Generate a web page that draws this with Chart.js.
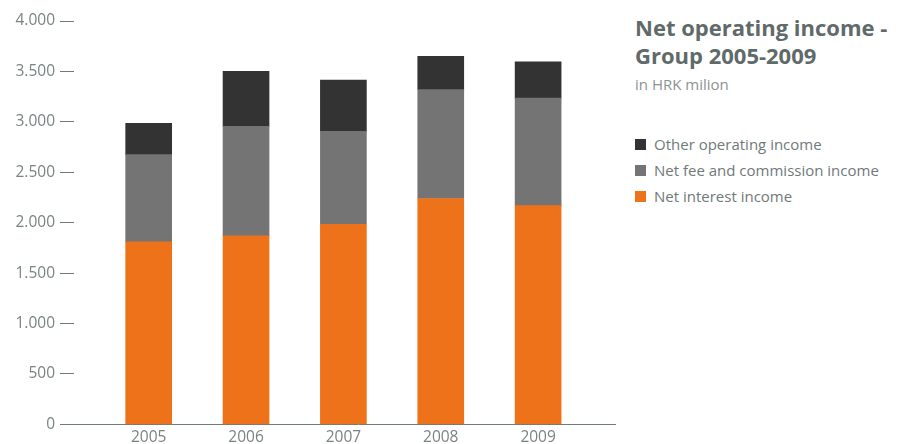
<!DOCTYPE html>
<html>
<head>
<meta charset="utf-8">
<script src="https://cdn.jsdelivr.net/npm/chart.js@4/dist/chart.umd.min.js"></script>
<style>
    html, body { margin: 0; padding: 0; background: #fff; }
    body { width: 901px; height: 444px; position: relative; overflow: hidden; font-family: "Open Sans", "Noto Sans", sans-serif; }
    #chartBox { position: absolute; left: 0; top: 0; width: 616px; height: 444px; }
    #panel { position: absolute; left: 635px; top: 13px; width: 266px; }
    #panel h1 { margin: 0; font-size: 22px; line-height: 28px; font-weight: 700; color: #5f6a6a; }
    #panel .sub { margin: 5px 0 0 0; font-size: 15px; line-height: 20px; color: #8b9393; }
    #legend { list-style: none; margin: 37px 0 0 0; padding: 0; }
    #legend li { display: flex; align-items: center; height: 26px; font-size: 15px; color: #707979; }
    #legend .box { width: 11px; height: 11px; margin-right: 8px; flex: none; }
</style>
</head>
<body>
<div id="chartBox"><canvas id="income"></canvas></div>
<div id="panel">
    <h1>Net operating income -<br>Group 2005-2009</h1>
    <p class="sub">in HRK milion</p>
    <ul id="legend"></ul>
</div>
<script>
    const years = [2005, 2006, 2007, 2008, 2009];
    const netInterestIncome = [1810, 1870, 1985, 2240, 2170];
    const netFeeIncome = [865, 1085, 920, 1080, 1065];
    const otherOperatingIncome = [310, 545, 510, 330, 360];
    const yTicks = [0, 500, 1000, 1500, 2000, 2500, 3000, 3500, 4000];

    const axisColor = '#6f7a7a';
    const labelColor = '#7a8383';

    // legend list, top entry is the top of the stack
    const htmlLegend = {
        id: 'htmlLegend',
        afterUpdate(chart) {
            const ul = document.getElementById('legend');
            ul.innerHTML = '';
            chart.data.datasets.slice().reverse().forEach(ds => {
                const li = document.createElement('li');
                const box = document.createElement('span');
                box.className = 'box';
                box.style.background = ds.backgroundColor;
                li.appendChild(box);
                li.appendChild(document.createTextNode(ds.label));
                ul.appendChild(li);
            });
        }
    };

    Chart.defaults.font.family = '"Open Sans", "Noto Sans", sans-serif';

    new Chart(document.getElementById('income'), {
        type: 'bar',
        data: {
            labels: years,
            datasets: [
                { label: 'Net interest income', data: netInterestIncome, backgroundColor: '#ee7219' },
                { label: 'Net fee and commission income', data: netFeeIncome, backgroundColor: '#747474' },
                { label: 'Other operating income', data: otherOperatingIncome, backgroundColor: '#333333' }
            ]
        },
        options: {
            responsive: true,
            maintainAspectRatio: false,
            animation: false,
            layout: { padding: { top: 21, right: 0, bottom: -7, left: 0 } },
            datasets: { bar: { barThickness: 46 } },
            plugins: {
                legend: { display: false },
                tooltip: { enabled: false }
            },
            scales: {
                x: {
                    type: 'linear',
                    stacked: true,
                    offset: false,
                    min: 2004.5,
                    max: 2009.8,
                    grid: { display: false, drawTicks: false, offset: false },
                    border: { display: true, color: axisColor, width: 1 },
                    ticks: {
                        stepSize: 1,
                        includeBounds: false,
                        padding: 4,
                        color: labelColor,
                        font: { size: 15.5 },
                        callback: v => String(v)
                    }
                },
                y: {
                    stacked: true,
                    min: 0,
                    max: 4000,
                    afterFit: scale => { scale.width = 100; },
                    afterBuildTicks: scale => { scale.ticks = yTicks.map(v => ({ value: v })); },
                    border: { display: false },
                    grid: {
                        drawOnChartArea: false,
                        drawTicks: true,
                        tickLength: 40,
                        tickColor: axisColor,
                        tickWidth: 1,
                        tickBorderDash: ctx => (ctx.tick && ctx.tick.value === 0) ? [] : [14, 60]
                    },
                    ticks: {
                        padding: 5,
                        color: labelColor,
                        font: { size: 15.5 },
                        callback: v => v.toLocaleString('de-DE')
                    }
                }
            }
        },
        plugins: [htmlLegend]
    });
</script>
</body>
</html>
